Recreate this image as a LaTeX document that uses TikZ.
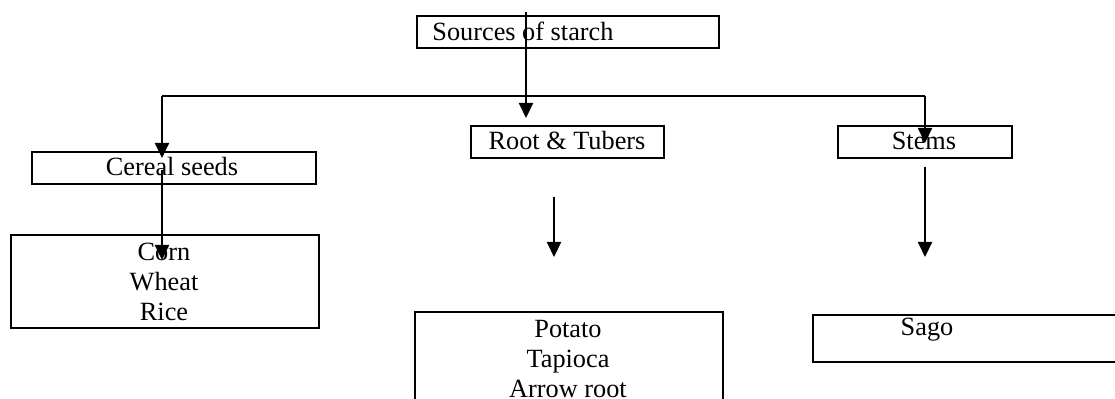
\documentclass[tikz,border=0pt]{standalone}
\usepackage{fontspec}
\setmainfont{Liberation Serif}
\usetikzlibrary{arrows.meta}
\begin{document}
\begin{tikzpicture}[x=0.5pt,y=-0.5pt,
  every node/.style={font=\fontsize{13.15pt}{15pt}\selectfont},
  box/.style={draw,line width=1.1pt,rectangle,inner sep=0pt,anchor=north west},
  txt/.style={inner sep=0pt,align=center},
  link/.style={line width=1.1pt},
  arr/.style={line width=1.1pt,-{Triangle[width=7pt,length=7.5pt]}}]
\useasboundingbox (0,0) rectangle (1115,399);

% boxes
\node[box,minimum width=151pt,minimum height=16pt] (src) at (416,15) {};
\node[box,minimum width=142pt,minimum height=16pt] (cer) at (31,151) {};
\node[box,minimum width=96.5pt,minimum height=16pt] (root) at (470,125) {};
\node[box,minimum width=87pt,minimum height=16pt] (stem) at (837,125) {};
\node[box,minimum width=154pt,minimum height=46.5pt] (corn) at (10,234) {};
\node[box,minimum width=154pt,minimum height=50pt] (pot) at (414,311) {};
\node[box,minimum width=160pt,minimum height=23.5pt] (sago) at (812,314) {};

% labels
\node[txt,anchor=west] (srct) at (432,31) {Sources of starch};
\node[txt] (cert) at (172,167) {Cereal seeds};
\node[txt] (roott) at (567,141) {Root \& Tubers};
\node[txt] (stemt) at (924,141) {Stems};
\node[txt] (cornt) at (164,282) {Corn\\Wheat\\Rice};
\node[txt] (pott) at (568,359) {Potato\\Tapioca\\Arrow root};
\node[txt] (sagot) at (927,330) {Sago};

% connector end points
\coordinate (s0) at (526,12);
\coordinate (s1) at (526,118);
\coordinate (bl) at (162,96);
\coordinate (br) at (925,96);
\coordinate (c1) at (162,158);
\coordinate (t1) at (925,143);
\coordinate (c2) at (162,170);
\coordinate (c3) at (162,260);
\coordinate (r2) at (554,197);
\coordinate (r3) at (554,257);
\coordinate (t2) at (925,167);
\coordinate (t3) at (925,257);

% connectors
\draw[arr] (s0) -- (s1);
\draw[link] (bl) -- (br);
\draw[arr] (bl) -- (c1);
\draw[arr] (br) -- (t1);
\draw[arr] (c2) -- (c3);
\draw[arr] (r2) -- (r3);
\draw[arr] (t2) -- (t3);
\end{tikzpicture}
\end{document}
